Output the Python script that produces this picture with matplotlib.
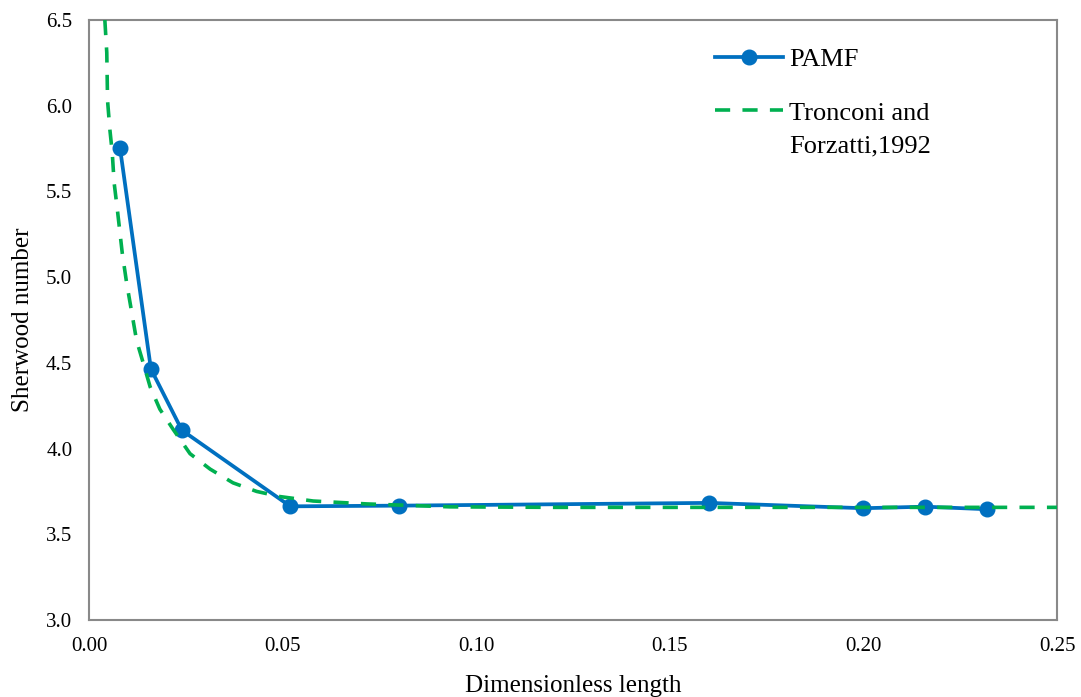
import numpy as np
import matplotlib
matplotlib.use("Agg")
import matplotlib.pyplot as plt

# PAMF results
pamf_x = [0.008, 0.016, 0.024, 0.052, 0.080, 0.160, 0.200, 0.216, 0.232]
pamf_y = [5.756, 4.464, 4.107, 3.663, 3.667, 3.683, 3.652, 3.661, 3.646]

# Tronconi and Forzatti (1992) correlation
tf_x = [0.0041, 0.0046, 0.0048, 0.0054, 0.0060, 0.0065, 0.0073, 0.0080, 0.0086,
        0.0097, 0.0110, 0.0123, 0.0140, 0.0158, 0.0183, 0.0218, 0.0261, 0.0313,
        0.0372, 0.0433, 0.0493, 0.0579, 0.0718, 0.0932, 0.12, 0.16, 0.20, 0.25]
tf_y = [6.50, 6.31, 6.03, 5.86, 5.73, 5.55, 5.40, 5.26, 5.14,
        4.97, 4.80, 4.63, 4.50, 4.36, 4.23, 4.11, 3.97, 3.88,
        3.80, 3.75, 3.72, 3.694, 3.677, 3.660, 3.657, 3.657, 3.657, 3.657]

plt.rcParams['font.family'] = ['Liberation Serif', 'DejaVu Serif']

fig = plt.figure(figsize=(10.81, 6.97), dpi=100)
ax = fig.add_axes([0.0823, 0.1105, 0.8955, 0.8608])

ax.plot(pamf_x, pamf_y, color='#0070C0', lw=2.7, marker='o', markersize=10.5,
        label='PAMF', zorder=3)
ax.plot(tf_x, tf_y, color='#00B050', lw=2.6, linestyle=(0, (4.2, 3.4)),
        label='Tronconi and', zorder=4)

ax.set_xlim(0, 0.25)
ax.set_ylim(3.0, 6.5)
ax.set_xticks(np.arange(0, 0.2501, 0.05))
ax.set_yticks(np.arange(3.0, 6.501, 0.5))
ax.xaxis.set_major_formatter(matplotlib.ticker.FormatStrFormatter('%.2f'))
ax.yaxis.set_major_formatter(matplotlib.ticker.FormatStrFormatter('%.1f'))
ax.tick_params(length=0, labelsize=15)
ax.tick_params(axis='y', pad=12)
ax.tick_params(axis='x', pad=12)

for s in ax.spines.values():
    s.set_color('#898989')
    s.set_linewidth(1.5)

ax.set_xlabel('Dimensionless length', fontsize=18, labelpad=14)
ax.set_ylabel('Sherwood number', fontsize=18, labelpad=9)

leg = ax.legend(loc='upper left', bbox_to_anchor=(0.622, 0.993), frameon=False,
                fontsize=19, handlelength=2.6, handletextpad=0.2,
                labelspacing=1.13)

# second line of the Tronconi label, placed under the first one
fig.canvas.draw()
bb = leg.get_texts()[1].get_window_extent()
fig.text(bb.x0 / fig.bbox.width, (bb.y0 - 33) / fig.bbox.height,
         'Forzatti,1992', fontsize=19, ha='left', va='bottom')

fig.savefig('out.png', dpi=100)
